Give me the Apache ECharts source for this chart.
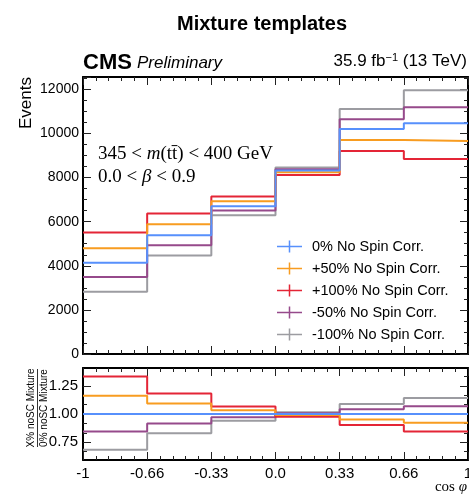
<!DOCTYPE html>
<html><head><meta charset="utf-8">
<script src="https://cdn.jsdelivr.net/npm/echarts@6/dist/echarts.min.js"></script>
<style>html,body{margin:0;padding:0;background:#fff}#c{width:469px;height:496px}</style>
</head><body><div id="c"></div>
<script>
// ---- data ----
const binEdgeLabels = ['-1', '-0.66', '-0.33', '0.0', '0.33', '0.66', '1'];
const seriesNames = ['0% No Spin Corr.', '+50% No Spin Corr.', '+100% No Spin Corr.', '-50% No Spin Corr.', '-100% No Spin Corr.'];
const mix0 = [4134, 5388, 6701, 8318, 10202, 10460];
const mixP50 = [4800, 5886, 6928, 8241, 9704, 9658];
const mixP100 = [5511, 6371, 7141, 8119, 9205, 8843];
const mixM50 = [3487, 4935, 6507, 8377, 10641, 11184];
const mixM100 = [2821, 4469, 6294, 8454, 11107, 11954];
const mainYTicks = [0, 2000, 4000, 6000, 8000, 10000, 12000];
const ratioYTicks = [0.75, 1.00, 1.25];

const colors = ['#5790fc', '#f89c20', '#e42536', '#964a8b', '#9c9ca1'];
const allSeries = [mix0, mixP50, mixP100, mixM50, mixM100];

function stepData(vals) {
  const d = vals.map((v, i) => [i, v]);
  d.push([vals.length, vals[vals.length - 1]]);
  return d;
}
const ratioVals = allSeries.map(s => s.map((v, i) => v / mix0[i]));

const FONT = 'Liberation Sans';
const tickStyle = { color: '#222', width: 1 };
const lineStyleAx = { color: '#000', width: 2 };

function xAx(grid, pos, showLabel) {
  return {
    type: 'value', gridIndex: grid, position: pos, min: 0, max: 6, interval: 1,
    axisLine: { show: true, onZero: false, lineStyle: lineStyleAx },
    axisTick: { show: true, inside: true, length: 8, lineStyle: tickStyle },
    minorTick: { show: true, splitNumber: 5, length: 4, lineStyle: tickStyle },
    splitLine: { show: false }, minorSplitLine: { show: false },
    axisLabel: { show: showLabel, margin: 6, color: '#000', fontFamily: FONT, fontSize: 15,
      formatter: v => binEdgeLabels[Math.round(v)] },
  };
}
const rMin = 0.5915, rMax = 1.4085;
const ratioMinor = [];
for (let k = 0; k <= 12; k++) {
  const v = 0.5 + k * 0.25 / 3;
  const isMajor = ratioYTicks.some(t => Math.abs(t - v) < 1e-6);
  if (!isMajor && v > rMin && v < rMax) ratioMinor.push(v);
}
function ratioY(pos, major) {
  return {
    type: 'value', gridIndex: 1, position: pos, min: rMin, max: rMax,
    axisLine: { show: major, onZero: false, lineStyle: lineStyleAx },
    axisTick: { show: true, inside: true, length: major ? 8 : 4, lineStyle: tickStyle,
      customValues: major ? ratioYTicks : ratioMinor },
    splitLine: { show: false },
    axisLabel: { show: major && pos === 'left', margin: 5, color: '#000', fontFamily: FONT, fontSize: 15,
      customValues: ratioYTicks, formatter: v => v.toFixed(2) },
  };
}
function mainY(pos) {
  return {
    type: 'value', gridIndex: 0, position: pos, min: 0, max: 12560, interval: 2000,
    axisLine: { show: true, onZero: false, lineStyle: lineStyleAx },
    axisTick: { show: true, inside: true, length: 8, lineStyle: tickStyle },
    minorTick: { show: true, splitNumber: 4, length: 4, lineStyle: tickStyle },
    splitLine: { show: false }, minorSplitLine: { show: false },
    axisLabel: { show: pos === 'left', showMaxLabel: false, margin: 4, color: '#000', fontFamily: FONT, fontSize: 14,
      formatter: v => (mainYTicks.indexOf(v) >= 0 ? String(v) : '') },
  };
}

const series = [];
allSeries.forEach((s, i) => {
  series.push({ name: seriesNames[i], type: 'line', step: 'end', symbol: 'none', xAxisIndex: 0, yAxisIndex: 0,
    data: stepData(s), lineStyle: { color: colors[i], width: 2 }, itemStyle: { color: colors[i] }, z: 10 - i });
});
ratioVals.forEach((s, i) => {
  series.push({ name: seriesNames[i], type: 'line', step: 'end', symbol: 'none', xAxisIndex: 2, yAxisIndex: 2,
    data: stepData(s), lineStyle: { color: colors[i], width: 2 }, itemStyle: { color: colors[i] }, z: 10 - i });
});

const option = {
  animation: false,
  backgroundColor: '#fff',
  title: { text: 'Mixture templates', left: 257, top: 9, textAlign: 'center',
    textStyle: { fontFamily: FONT, fontWeight: 'bold', fontSize: 20, color: '#000' } },
  grid: [
    { left: 83, top: 77, width: 385, height: 277, outerBoundsMode: 'none', containLabel: false },
    { left: 83, top: 368, width: 385, height: 92, outerBoundsMode: 'none', containLabel: false },
  ],
  xAxis: [xAx(0, 'bottom', false), xAx(0, 'top', false), xAx(1, 'bottom', true), xAx(1, 'top', false)],
  yAxis: [mainY('left'), mainY('right'), ratioY('left', true), ratioY('left', false), ratioY('right', true), ratioY('right', false)],
  legend: {
    data: seriesNames, orient: 'vertical', left: 277, top: 239, padding: 0, itemWidth: 25, itemHeight: 12, itemGap: 7,
    icon: 'path://M0,5.25h25v1.5h-25z M11.75,0h1.5v12h-1.5z',
    textStyle: { fontFamily: FONT, fontSize: 14.5, color: '#000', lineHeight: 12, padding: [0, 0, 0, 5] },
    selectedMode: false,
  },
  series: series,
  graphic: [
    { type: 'text', left: 83, top: 52, style: { text: 'CMS', font: 'bold 22px "Liberation Sans"', fill: '#000' } },
    { type: 'text', left: 137, top: 55, style: { text: 'Preliminary', font: 'italic 17px "Liberation Sans"', fill: '#000' } },
    { type: 'text', right: 2, top: 52, style: {
      text: '35.9 fb{s|−1} (13 TeV)', font: '17px "Liberation Sans"', fill: '#000',
      rich: { s: { fontSize: 11, fontFamily: FONT, verticalAlign: 'top', padding: [0, 0, 8, 0] } } } },
    { type: 'text', x: 26, y: 77, rotation: Math.PI / 2, style: {
      text: 'Events', font: '17px "Liberation Sans"', fill: '#000', align: 'right', verticalAlign: 'middle' } },
    { type: 'text', x: 98, y: 154, style: {
      text: '345 < {i|m}(tt\u0304) < 400 GeV', font: '19px "Liberation Serif"', fill: '#000', verticalAlign: 'middle',
      rich: { i: { fontStyle: 'italic', fontSize: 19, fontFamily: 'Liberation Serif' } } } },
    { type: 'text', x: 98, y: 177, style: {
      text: '0.0 < {i|β} < 0.9', font: '19px "Liberation Serif"', fill: '#000', verticalAlign: 'middle',
      rich: { i: { fontStyle: 'italic', fontSize: 19, fontFamily: 'Liberation Serif' } } } },
    { type: 'text', x: 467, y: 487, style: {
      text: 'cos {i|φ}', font: '15px "Liberation Serif"', fill: '#000', align: 'right', verticalAlign: 'middle',
      rich: { i: { fontStyle: 'italic', fontSize: 15, fontFamily: 'Liberation Serif' } } } },
    { type: 'group', x: 37.5, y: 408, rotation: Math.PI / 2, children: [
      { type: 'text', x: 0, y: -1.5, style: { text: 'X% noSC Mixture', font: '10px "Liberation Sans"', fill: '#000', align: 'center', verticalAlign: 'bottom' } },
      { type: 'line', shape: { x1: -39, y1: 0, x2: 39, y2: 0 }, style: { stroke: '#000', lineWidth: 0.8 } },
      { type: 'text', x: 0, y: 1.5, style: { text: '0% noSC Mixture', font: '10px "Liberation Sans"', fill: '#000', align: 'center', verticalAlign: 'top' } },
    ] },
  ],
};
const chart = echarts.init(document.getElementById('c'), null, { renderer: 'canvas' });
chart.setOption(option);
</script>
</body></html>
